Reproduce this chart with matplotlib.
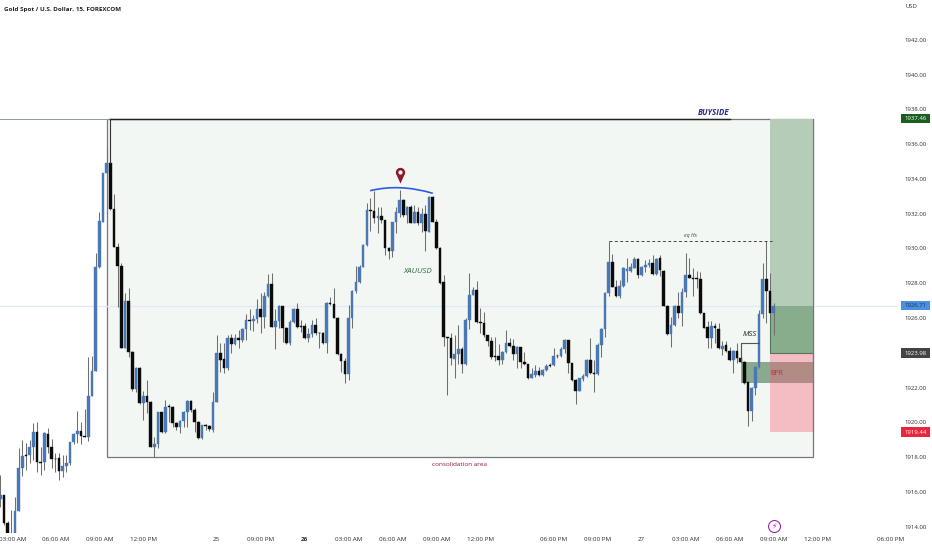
import matplotlib
matplotlib.use("Agg")
import matplotlib.pyplot as plt
import numpy as np
from matplotlib.path import Path
from matplotlib.patches import PathPatch, Rectangle
from matplotlib.transforms import blended_transform_factory

plt.rcParams['font.family'] = ['Open Sans', 'DejaVu Sans']

# 15 min candles
opens = [1915.62, 1915.85, 1914.19, 1913.5, 1913.4, 1914.92, 1917.35, 1918.12, 1918.12, 1918.60,
         1919.44, 1917.73, 1917.73, 1919.32, 1918.60, 1917.92, 1917.96, 1917.20, 1917.48, 1917.64,
         1918.86, 1919.34, 1919.48, 1919.21, 1919.17, 1921.53, 1922.97, 1928.93, 1931.53, 1934.31,
         1934.93, 1932.24, 1930.10, 1929.00, 1924.29, 1926.99, 1924.06, 1921.93, 1923.14, 1921.09,
         1921.53, 1921.18, 1918.60, 1918.73, 1920.59, 1919.44, 1920.93, 1920.89, 1919.98, 1919.75,
         1920.09, 1920.59, 1921.24, 1920.70, 1920.03, 1919.11, 1919.82, 1919.78, 1919.55, 1921.18,
         1924.00, 1923.62, 1923.10, 1924.83, 1924.49, 1924.83, 1924.74, 1925.37, 1925.87, 1925.81,
         1925.94, 1926.50, 1926.08, 1927.26, 1927.95, 1925.50, 1925.81, 1926.69, 1925.44, 1924.54,
         1925.75, 1926.50, 1925.54, 1925.54, 1924.83, 1925.06, 1925.60, 1925.15, 1925.15, 1924.58,
         1926.88, 1926.79, 1926.02, 1923.93, 1923.55, 1922.78, 1925.98, 1927.55, 1928.05, 1928.95,
         1930.18, 1932.21, 1932.15, 1931.77, 1931.88, 1931.63, 1930.01, 1929.87, 1931.50, 1932.06,
         1932.78, 1931.92, 1932.36, 1931.48, 1932.11, 1931.44, 1931.98, 1930.96, 1932.98, 1931.54,
         1930.01, 1928.05, 1924.89, 1924.87, 1923.66, 1923.91, 1924.20, 1923.34, 1925.88, 1927.34,
         1927.59, 1925.77, 1925.73, 1925.00, 1924.68, 1923.80, 1923.82, 1923.60, 1924.06, 1924.56,
         1924.41, 1923.91, 1924.31, 1923.49, 1923.35, 1922.57, 1922.74, 1922.93, 1922.74, 1923.01,
         1923.30, 1923.28, 1923.83, 1923.81, 1924.24, 1924.72, 1923.39, 1922.43, 1921.82, 1922.49,
         1922.68, 1923.57, 1922.82, 1922.78, 1924.45, 1925.39, 1927.42, 1929.24, 1927.80, 1927.27,
         1927.84, 1928.72, 1928.72, 1928.89, 1929.37, 1928.49, 1928.95, 1929.03, 1929.14, 1928.53,
         1929.43, 1928.72, 1926.71, 1925.08, 1925.60, 1926.71, 1926.31, 1927.48, 1928.47, 1928.32,
         1928.28, 1928.24, 1926.27, 1925.46, 1924.83, 1925.56, 1925.39, 1924.22, 1924.43, 1924.10,
         1923.58, 1924.12, 1923.68, 1923.49, 1922.30, 1920.67, 1921.99, 1923.16, 1926.23, 1928.22,
         1927.57, 1926.27]
highs = [1916.97, 1915.85, 1914.3, 1914.95, 1915.72, 1918.50, 1918.98, 1918.79, 1918.98, 1919.94,
         1920.03, 1918.60, 1919.46, 1919.65, 1919.02, 1918.21, 1918.21, 1918.12, 1918.12, 1918.88,
         1919.36, 1920.67, 1920.03, 1920.74, 1923.77, 1923.81, 1929.71, 1932.11, 1934.33, 1935.75,
         1937.46, 1933.11, 1930.29, 1929.18, 1927.41, 1927.74, 1924.08, 1923.16, 1923.20, 1921.82,
         1922.43, 1921.22, 1919.17, 1920.61, 1920.61, 1921.28, 1921.05, 1920.93, 1920.03, 1920.11,
         1920.67, 1921.28, 1921.28, 1920.80, 1920.05, 1919.84, 1919.90, 1919.84, 1921.76, 1925.02,
         1924.54, 1924.58, 1925.02, 1925.08, 1925.08, 1925.31, 1925.41, 1926.21, 1926.50, 1926.17,
         1927.07, 1927.46, 1927.51, 1928.53, 1928.57, 1926.50, 1926.75, 1926.71, 1925.46, 1925.89,
         1926.56, 1926.84, 1925.89, 1925.69, 1925.40, 1925.89, 1925.98, 1925.21, 1925.21, 1926.90,
         1927.19, 1927.71, 1926.04, 1924.00, 1923.68, 1926.75, 1927.61, 1928.99, 1929.05, 1930.25,
         1932.63, 1932.88, 1933.30, 1932.40, 1932.40, 1931.65, 1930.06, 1931.54, 1932.36, 1933.36,
         1932.82, 1932.44, 1932.50, 1932.50, 1932.40, 1932.30, 1932.50, 1933.01, 1933.00, 1931.67,
         1930.06, 1928.47, 1924.93, 1925.16, 1925.02, 1925.60, 1924.35, 1925.98, 1928.57, 1927.80,
         1928.15, 1926.56, 1926.33, 1925.02, 1924.93, 1924.93, 1924.49, 1924.12, 1925.31, 1924.83,
         1924.79, 1924.39, 1924.35, 1924.03, 1923.37, 1923.11, 1923.30, 1923.20, 1923.05, 1923.33,
         1923.39, 1924.26, 1923.93, 1924.35, 1924.77, 1924.74, 1923.41, 1922.47, 1922.55, 1922.76,
         1923.62, 1924.83, 1923.58, 1924.54, 1925.41, 1927.51, 1930.45, 1929.68, 1928.18, 1928.18,
         1928.91, 1929.43, 1929.18, 1929.49, 1929.43, 1928.99, 1929.33, 1929.37, 1929.62, 1929.47,
         1929.62, 1928.76, 1926.75, 1926.04, 1926.75, 1927.51, 1927.71, 1929.76, 1929.43, 1928.86,
         1928.72, 1928.66, 1926.29, 1925.85, 1925.85, 1925.73, 1925.69, 1924.70, 1924.70, 1924.35,
         1924.16, 1924.54, 1924.54, 1923.51, 1922.34, 1922.05, 1923.26, 1926.46, 1929.18, 1930.43,
         1928.57, 1926.88]
lows = [1915.15, 1914.09, 1913.2, 1913.0, 1913.3, 1914.9, 1916.91, 1917.25, 1917.64, 1917.83,
        1917.16, 1916.97, 1917.25, 1918.21, 1917.35, 1917.16, 1916.68, 1916.87, 1917.16, 1917.54,
        1918.75, 1918.83, 1918.75, 1919.13, 1918.94, 1921.51, 1922.95, 1928.85, 1931.50, 1934.29,
        1932.22, 1930.08, 1926.61, 1924.27, 1924.25, 1923.73, 1921.80, 1921.76, 1921.07, 1920.13,
        1920.51, 1918.58, 1917.98, 1918.50, 1919.36, 1919.40, 1920.03, 1919.75, 1919.55, 1919.36,
        1919.71, 1919.71, 1920.61, 1919.46, 1919.07, 1919.07, 1919.55, 1919.50, 1919.46, 1921.16,
        1922.91, 1922.81, 1923.00, 1923.97, 1924.45, 1924.26, 1924.64, 1924.74, 1925.31, 1925.27,
        1925.69, 1925.15, 1925.40, 1927.22, 1925.48, 1924.22, 1925.40, 1924.64, 1924.50, 1924.45,
        1925.69, 1925.44, 1925.21, 1924.77, 1924.64, 1924.93, 1925.02, 1924.26, 1924.50, 1924.00,
        1926.75, 1925.98, 1923.87, 1922.91, 1922.24, 1922.43, 1925.44, 1927.46, 1927.99, 1928.91,
        1930.14, 1931.02, 1931.44, 1930.87, 1931.44, 1929.62, 1929.37, 1929.53, 1930.87, 1931.83,
        1931.79, 1931.44, 1931.44, 1931.44, 1931.35, 1930.96, 1929.87, 1930.93, 1931.52, 1929.95,
        1927.95, 1924.39, 1921.57, 1923.30, 1922.57, 1923.35, 1922.86, 1923.30, 1925.35, 1927.30,
        1925.69, 1925.16, 1924.93, 1924.41, 1923.62, 1923.53, 1923.30, 1923.33, 1924.00, 1924.35,
        1923.58, 1923.14, 1923.14, 1923.30, 1922.47, 1922.53, 1922.63, 1922.68, 1922.66, 1922.97,
        1923.16, 1923.24, 1923.68, 1923.78, 1923.97, 1922.82, 1922.40, 1921.05, 1921.80, 1922.40,
        1922.62, 1922.78, 1921.76, 1922.72, 1923.74, 1924.89, 1927.27, 1927.76, 1927.23, 1927.13,
        1927.80, 1928.05, 1928.66, 1928.86, 1928.28, 1928.41, 1928.66, 1928.91, 1928.47, 1928.47,
        1928.41, 1926.69, 1925.02, 1924.31, 1925.54, 1925.98, 1925.56, 1927.23, 1928.28, 1927.27,
        1927.71, 1926.25, 1925.40, 1924.26, 1924.26, 1924.54, 1924.20, 1923.87, 1924.06, 1923.55,
        1922.86, 1923.39, 1923.47, 1922.20, 1919.79, 1920.10, 1921.57, 1923.14, 1925.98, 1925.71,
        1926.23, 1925.02]
closes = [1915.85, 1914.19, 1913.3, 1913.3, 1914.92, 1917.35, 1918.06, 1918.06, 1918.60, 1919.44,
          1917.73, 1917.69, 1919.36, 1918.60, 1917.92, 1917.88, 1917.20, 1917.50, 1917.64, 1918.86,
          1919.34, 1919.48, 1919.21, 1919.17, 1921.53, 1922.97, 1928.93, 1931.57, 1934.31, 1934.93,
          1932.24, 1930.10, 1929.00, 1924.29, 1926.99, 1924.06, 1921.93, 1923.14, 1921.09, 1921.53,
          1921.18, 1918.60, 1918.73, 1920.59, 1919.44, 1920.91, 1920.89, 1919.98, 1919.75, 1920.09,
          1920.59, 1921.24, 1920.70, 1920.03, 1919.11, 1919.82, 1919.78, 1919.59, 1921.18, 1924.00,
          1923.58, 1923.10, 1924.83, 1924.50, 1924.83, 1924.74, 1925.37, 1925.87, 1925.83, 1925.94,
          1926.50, 1926.08, 1927.26, 1927.95, 1925.50, 1925.81, 1926.71, 1925.40, 1924.54, 1925.75,
          1926.50, 1925.50, 1925.50, 1924.83, 1925.06, 1925.60, 1925.12, 1925.12, 1924.58, 1926.88,
          1926.80, 1926.02, 1923.91, 1923.55, 1922.78, 1925.98, 1927.55, 1928.05, 1928.95, 1930.18,
          1932.21, 1932.15, 1931.77, 1931.88, 1931.63, 1930.01, 1929.87, 1931.50, 1932.11, 1932.78,
          1931.92, 1932.36, 1931.48, 1932.11, 1931.44, 1931.96, 1931.00, 1932.98, 1931.54, 1930.01,
          1927.99, 1924.93, 1924.85, 1923.68, 1923.93, 1924.20, 1923.34, 1925.88, 1927.34, 1927.59,
          1925.75, 1925.73, 1925.00, 1924.68, 1923.74, 1923.76, 1923.60, 1924.06, 1924.56, 1924.41,
          1923.91, 1924.31, 1923.45, 1923.35, 1922.57, 1922.76, 1922.93, 1922.74, 1923.01, 1923.22,
          1923.24, 1923.81, 1923.80, 1924.24, 1924.72, 1923.39, 1922.43, 1921.82, 1922.53, 1922.68,
          1923.57, 1922.82, 1922.78, 1924.45, 1925.39, 1927.42, 1929.24, 1927.80, 1927.27, 1927.84,
          1928.87, 1928.84, 1928.91, 1929.37, 1928.49, 1928.95, 1929.07, 1929.14, 1928.51, 1929.41,
          1928.76, 1926.71, 1925.08, 1925.60, 1926.71, 1926.31, 1927.48, 1928.47, 1928.32, 1928.26,
          1928.22, 1926.27, 1925.44, 1924.83, 1925.56, 1925.44, 1924.26, 1924.41, 1924.10, 1923.58,
          1924.12, 1923.68, 1923.49, 1922.24, 1920.67, 1921.99, 1923.20, 1926.23, 1928.22, 1927.57,
          1926.27, 1926.71]

time_ticks = [3.3, 15, 27, 39, 59, 71, 83, 95, 107, 119, 131, 151, 163, 175, 187, 199, 211, 223, 243]
time_labels = ['03:00 AM', '06:00 AM', '09:00 AM', '12:00 PM', '25', '09:00 PM', '26', '03:00 AM',
               '06:00 AM', '09:00 AM', '12:00 PM', '06:00 PM', '09:00 PM', '27', '03:00 AM',
               '06:00 AM', '09:00 AM', '12:00 PM', '06:00 PM']
price_ticks = [1914, 1916, 1918, 1920, 1922, 1926, 1928, 1930, 1932, 1934, 1936, 1938, 1940, 1942]

target = 1937.46
current = 1926.71
entry = 1923.98
stop = 1919.44
box_low = 1917.98
bpr_top = 1923.49
bpr_bottom = 1922.24
eq_high = 1930.43
mss_level = 1924.58

BLUE = '#4a78b4'
BLACK = '#0b0b0b'
WICK = '#6f6f6f'
TXT = '#2f2f2f'
X_FONT = 4.5
Y_FONT = 4.3

fig = plt.figure(figsize=(9.32, 5.5), dpi=100, facecolor='white')
ax = fig.add_axes([0, (550 - 533.3) / 550, 898 / 932, 533.3 / 550])
ax.set_xlim(-0.09, 244.93)
ax.set_ylim(1913.62, 1944.285)
for s in ax.spines.values():
    s.set_visible(False)

# boxes
ax.add_patch(Rectangle((29.2, box_low), 221.8 - 29.2, target - box_low, fc='#f3f7f4', ec='#777777', lw=0.9, zorder=1))
ax.axhline(current, color='#e3e9f0', lw=0.9, zorder=1.5)
ax.add_patch(Rectangle((202, bpr_bottom), 221.8 - 202, bpr_top - bpr_bottom, fc='#8aa98e', ec='none', zorder=2))
ax.add_patch(Rectangle((209.95, current), 221.8 - 209.95, target - current, fc='#b5ccb9', ec='none', zorder=2))
ax.add_patch(Rectangle((209.95, entry), 221.8 - 209.95, current - entry, fc='#88ad8d', ec='none', zorder=2))
ax.add_patch(Rectangle((209.95, stop), 221.8 - 209.95, entry - stop, fc=(246 / 255, 91 / 255, 116 / 255, 0.375), ec='none', zorder=2.1))
ax.plot([209.95, 209.95, 221.8], [current, entry, entry], color='#55755a', lw=0.8, zorder=2.2)
ax.plot([221.8, 221.8], [stop, target], color='#777777', lw=0.8, zorder=2.2)

# candles
x = np.arange(len(opens))
o = np.array(opens)
c = np.array(closes)
ax.vlines(x, lows, highs, color=WICK, lw=0.75, zorder=3)
cols = [BLUE if cc >= oo else BLACK for oo, cc in zip(opens, closes)]
ax.bar(x, np.abs(c - o), bottom=np.minimum(o, c), width=0.72, color=cols, edgecolor=cols, lw=0.3, zorder=4)

# buyside line
ax.plot([-0.09, 30], [target, target], color='#8a9a9a', lw=0.7, zorder=5)
ax.plot([30, 199], [target, target], color='#1f1f1f', lw=1.0, zorder=5)
ax.plot([30, 30], [opens[30], target], color='#333333', lw=0.8, zorder=5)
ax.text(194.5, target + 0.38, 'BUYSIDE', color='#2b2b80', fontsize=5.8, style='italic', fontweight='bold', ha='center', va='center')

# arc and pin over the highs
arc = Path([(100.9, 1933.32), (109, 1933.735), (118, 1933.17)], [Path.MOVETO, Path.CURVE3, Path.CURVE3])
ax.add_patch(PathPatch(arc, fc='none', ec='#2d5be3', lw=1.2, zorder=5))
pin = Path.arc(-35, 215)
pin = Path(np.vstack([pin.vertices, [[0, -2.4]], [pin.vertices[0]]]))
ax.plot([109], [1934.39], marker=pin, ms=16, color='#8c1a2c', mew=0, zorder=6)
ax.plot([109], [1934.39], marker='o', ms=3, color='white', mew=0, zorder=7)

ax.text(114, 1928.66, 'XAUUSD', color='#2e6b3e', fontsize=5.8, style='italic', ha='center', va='center', zorder=6)
ax.text(125.4, box_low - 0.38, 'consolidation area', color='#8c1a2c', fontsize=4.55, ha='center', va='center')

# eq highs
ax.plot([166, 210.6], [eq_high, eq_high], color='#444444', lw=0.7, ls=(0, (3, 2.5)), zorder=5)
ax.text(188.4, eq_high + 0.3, 'eq Hs', color='#444444', fontsize=3.8, style='italic', ha='center', va='center', zorder=6)

# MSS
ax.plot([202, 202, 207], [bpr_top, mss_level, mss_level], color='#555555', lw=0.8, zorder=5)
ax.text(204.4, mss_level + 0.45, 'MSS', color='#222222', fontsize=5.6, style='italic', ha='center', va='center', zorder=6)
ax.text(211.8, 1922.82, 'BPR', color='#b5303c', fontsize=5, ha='center', va='center', zorder=6)

# lightning
ax.plot([211], [1914.06], marker='o', ms=8.6, mfc='white', mec='#9c27b0', mew=0.8, zorder=6)
ax.text(211, 1914.06, '\u26a1', color='#9c27b0', fontsize=5.5, ha='center', va='center', family='DejaVu Sans', zorder=7)

# axes text
ax.yaxis.tick_right()
ax.set_yticks(price_ticks)
ax.set_yticklabels(['%.2f' % p for p in price_ticks], fontsize=Y_FONT, color=TXT)
ax.set_xticks(time_ticks)
ax.set_xticklabels(time_labels, fontsize=X_FONT, color=TXT)
ax.tick_params(length=0)
ax.tick_params(axis='y', pad=5)
ax.tick_params(axis='x', pad=3)
for lab in ax.get_xticklabels():
    if lab.get_text() == '26':
        lab.set_fontweight('bold')

# price badges
badges = [(target, '#1b5e20', 'white'), (current, '#4a90e2', '#1d3350'), (entry, '#444444', 'white'), (stop, '#e8263f', 'white')]
to_badge = blended_transform_factory(ax.transAxes, ax.transData)
for val, bg, fg in badges:
    ax.add_patch(Rectangle((1 + 3 / 898, val - 0.27), 29 / 898, 0.54, fc=bg, ec='none', transform=to_badge, clip_on=False, zorder=8))
    ax.text(1 + 17.5 / 898, val, '%.2f' % val, transform=to_badge, fontsize=Y_FONT, color=fg, ha='center', va='center',
            clip_on=False, zorder=9)

fig.text(906 / 932, 1 - 7 / 550, 'USD', fontsize=Y_FONT, color=TXT, ha='left', va='center')
fig.text(4 / 932, 1 - 9.5 / 550, 'Gold Spot / U.S. Dollar, 15, FOREXCOM', fontsize=4.5, color='#222222', fontweight='bold', ha='left', va='center')

fig.savefig('out.png', dpi=100)
